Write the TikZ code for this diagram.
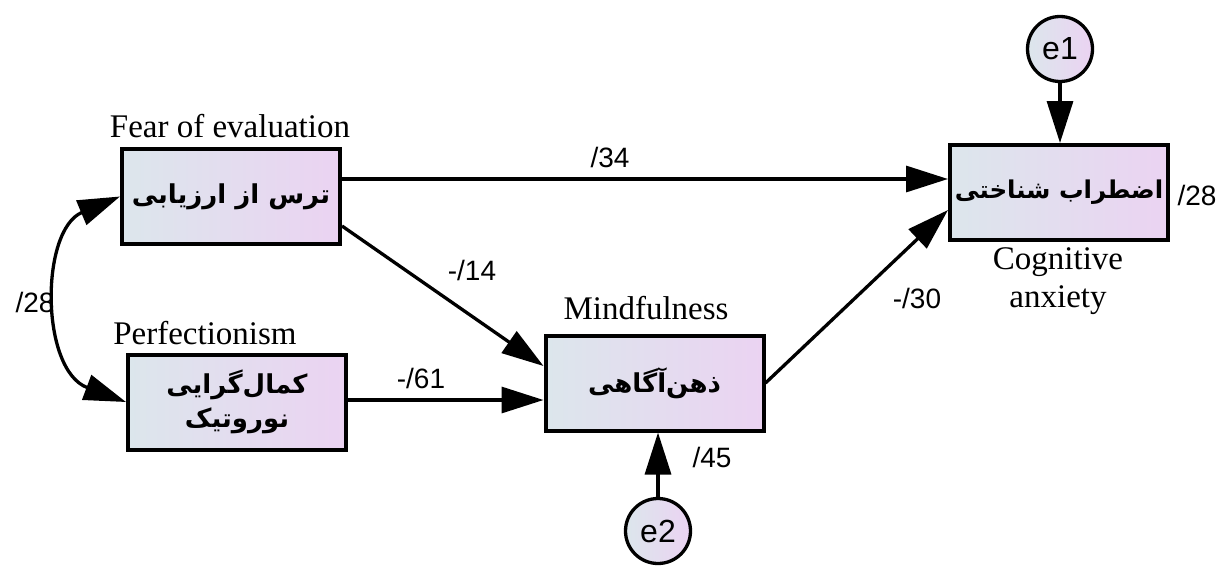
\documentclass[tikz,border=0pt]{standalone}
\usepackage{fontspec}
\setmainfont{Liberation Serif}
\newfontfamily\numfont{Liberation Sans}
\newfontfamily\arabicfont[Script=Arabic]{DejaVu Sans}
\TeXXeTstate=1
\usetikzlibrary{arrows.meta}
\definecolor{boxL}{HTML}{DCE6EC}
\definecolor{boxR}{HTML}{EBD3F2}
\tikzset{
  varbox/.style={draw, line width=4pt, minimum width=218pt, minimum height=95pt,
    inner sep=0pt, left color=boxL, right color=boxR, align=center,
    font=\arabicfont\bfseries\fontsize{26}{34}\selectfont},
  errnode/.style={draw, circle, line width=3.3pt, minimum size=65pt, inner sep=0pt,
    left color=boxL, right color=boxR, font=\numfont\fontsize{32}{34}\selectfont},
  path/.style={line width=3.3pt, -{Triangle[length=42pt,width=26pt]}},
  dpath/.style={line width=3.3pt, {Triangle[length=42pt,width=26pt]}-{Triangle[length=42pt,width=26pt]}},
  coef/.style={font=\numfont\fontsize{28}{32}\selectfont, inner sep=0pt},
  eng/.style={font=\fontsize{33}{38}\selectfont, inner sep=0pt, align=center}
}
\begin{document}
\begin{tikzpicture}[x=1pt,y=-1pt]
\useasboundingbox (0,0) rectangle (1220,565);
% variables
\node[varbox] (fear) at (231,196.5) {\beginR ترس از ارزیابی\endR};
\node[varbox] (perf) at (237,402) {\beginR کمال‌گرایی\endR\\\beginR نوروتیک\endR};
\node[varbox] (mind) at (654.5,383) {\beginR ذهن‌آگاهی\endR};
\node[varbox, font=\arabicfont\bfseries\fontsize{24.5}{34}\selectfont] (cog) at (1059,192.5) {\beginR اضطراب شناختی\endR};
% errors
\node[errnode] (e1) at (1060,49) {e1};
\node[errnode] (e2) at (658,531) {e2};
% english labels
\node[eng] (lfear) at (230,126) {Fear of evaluation};
\node[eng] (lperf) at (205,333) {Perfectionism};
\node[eng] (lmind) at (646,308) {Mindfulness};
\node[eng] (lcog) at (1058,281) {Cognitive\\anxiety};
% helper coordinates
\coordinate (ya) at (0,179);
\coordinate (yb) at (0,226);
\coordinate (yc) at (0,366);
\coordinate (yd) at (0,400);
\coordinate (ye) at (0,210);
% paths
\draw[path] (fear.east |- ya) -- (cog.west |- ya);
\draw[path] (fear.east |- yb) -- (mind.west |- yc);
\draw[path] (perf.east |- yd) -- (mind.west |- yd);
\draw[path] (mind.east) -- (cog.west |- ye);
\draw[path] (e1.south) -- (cog.north -| e1.south);
\draw[path] (e2.north) -- (mind.south -| e2.north);
\draw[dpath] (fear.west) .. controls (40,230) and (40,370) .. (perf.west);
% coefficients
\node[coef] (c1) at (610,157) {/34};
\node[coef] (c2) at (472,270) {-/14};
\node[coef] (c3) at (421,378) {-/61};
\node[coef] (c4) at (917,298) {-/30};
\node[coef] (c5) at (35,302) {/28};
\node[coef] (c6) at (1197,195) {/28};
\node[coef] (c7) at (712,457) {/45};
\end{tikzpicture}
\end{document}
